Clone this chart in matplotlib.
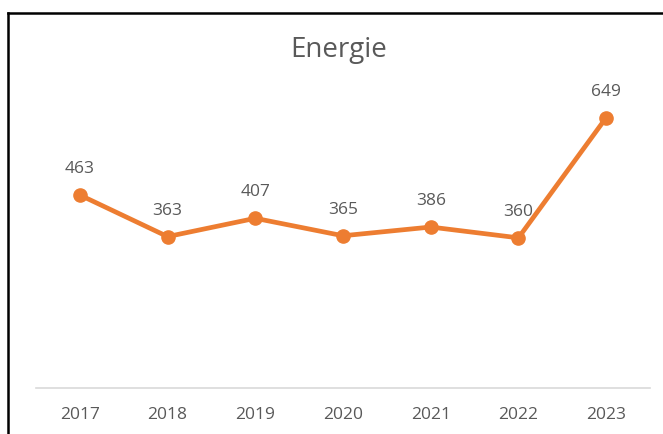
import matplotlib.pyplot as plt
from matplotlib.lines import Line2D

years = ["2017", "2018", "2019", "2020", "2021", "2022", "2023"]
values = [463, 363, 407, 365, 386, 360, 649]

W, H = 663, 434
fig = plt.figure(figsize=(W / 100, H / 100), dpi=100)
plt.rcParams['font.family'] = ['Open Sans', 'DejaVu Sans']

# Plot area
ax = fig.add_axes([36 / W, (H - 387.5) / H, (650 - 36) / W, (387.5 - 96.5) / H])
x = range(len(years))
ax.plot(x, values, color="#ED7D31", linewidth=3.4, marker="o", markersize=9.5,
        solid_capstyle="round")
for i, v in enumerate(values):
    ax.annotate(str(v), (i, v), xytext=(0, 13), textcoords="offset points",
                ha="center", va="bottom", fontsize=12.5, color="#595959")

ax.set_xlim(-0.5, len(years) - 0.5)
ax.set_ylim(0, 700)
ax.set_xticks(list(x))
ax.set_xticklabels(years, fontsize=12.5, color="#595959")
ax.tick_params(axis="x", length=0, pad=14)
ax.set_yticks([])
for s in ["top", "right", "left"]:
    ax.spines[s].set_visible(False)
ax.spines["bottom"].set_color("#D9D9D9")
ax.spines["bottom"].set_linewidth(1.2)

fig.text(339 / W, (H - 50) / H, "Energie", ha="center", va="center",
         fontsize=20, color="#595959")

# Border lines (left and top)
fig.add_artist(Line2D([7.5 / W, 7.5 / W], [0, (H - 12.5) / H], color="black", linewidth=1.8))
fig.add_artist(Line2D([7.5 / W, 1], [(H - 12.5) / H, (H - 12.5) / H], color="black", linewidth=1.8))

fig.savefig("out.png", dpi=100)
